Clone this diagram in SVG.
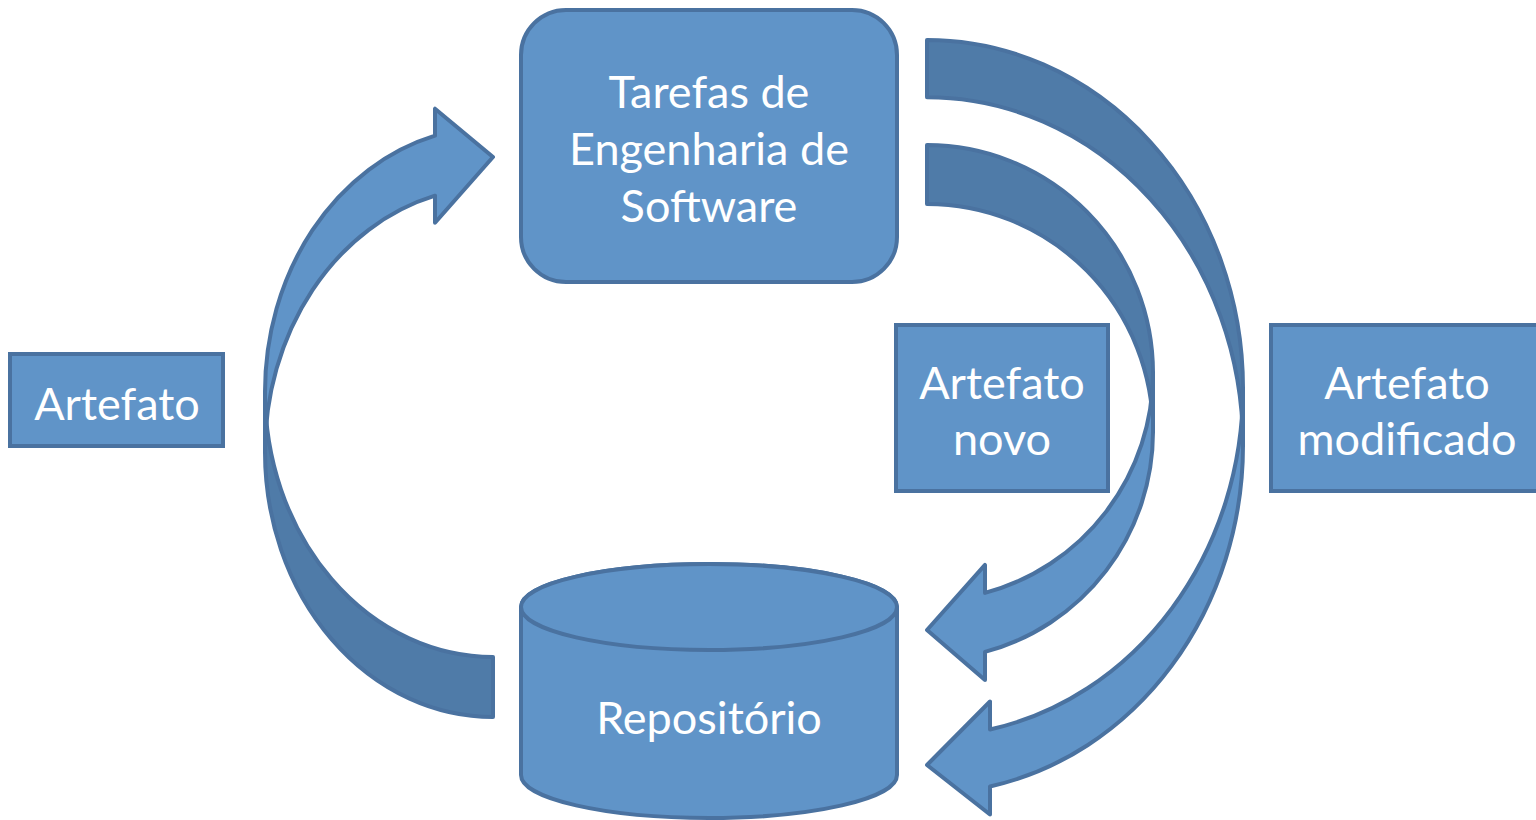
<svg xmlns="http://www.w3.org/2000/svg" width="1536" height="820" viewBox="0 0 1536 820">
<style>
.front{fill:#6094C8;stroke:#4A72A0;stroke-width:4;stroke-linejoin:round}
.back{fill:#4F7BA8;stroke:#4A72A0;stroke-width:4;stroke-linejoin:round}
.box{fill:#6094C8;stroke:#4A72A0;stroke-width:4}
.t{font-family:Lato,"Liberation Sans",sans-serif;font-size:45px;fill:#FFFFFF;text-anchor:middle}
</style>
<rect width="1536" height="820" fill="#FFFFFF"/>
<g id="connectors">
  <g id="arrow-left">
    <path class="back" d="M 493 717 A 228 265 0 0 1 265 452 L 265 392 A 228 265 0 0 0 493 657 Z"/>
    <path class="front" d="M 265 452 A 228 265 0 0 1 435 195.7 L 435 222.7 L 493 157 L 435 108.7 L 435 135.7 A 228 265 0 0 0 265 392 Z"/>
  </g>
  <g id="arrow-novo">
    <path class="back" d="M 927 145 A 226 227.75 0 0 1 1153 372.75 L 1153 431.75 A 226 227.75 0 0 0 927 204 Z"/>
    <path class="front" d="M 1153 431.75 A 226 227.75 0 0 1 985 651.9 L 985 679.9 L 927 630 L 985 564.9 L 985 592.9 A 226 227.75 0 0 0 1153 372.75 Z"/>
  </g>
  <g id="arrow-modificado">
    <path class="back" d="M 927 40 A 316 348.25 0 0 1 1243 388.25 L 1243 445.25 A 316 348.25 0 0 0 927 97.25 Z"/>
    <path class="front" d="M 1243 445.25 A 316 348.25 0 0 1 990 786.5 L 990 814.5 L 927 765 L 990 701.5 L 990 729.5 A 316 348.25 0 0 0 1243 388.25 Z"/>
  </g>
</g>
<g id="tarefas">
  <rect class="box" x="521" y="10" width="376" height="272" rx="45" ry="45"/>
  <text class="t" x="709" y="108">Tarefas de</text>
  <text class="t" x="709" y="165">Engenharia de</text>
  <text class="t" x="709" y="222">Software</text>
</g>
<g id="artefato">
  <rect class="box" x="10" y="354" width="213" height="92"/>
  <text class="t" x="117" y="420">Artefato</text>
</g>
<g id="artefato-novo">
  <rect class="box" x="896" y="325" width="212" height="166"/>
  <text class="t" x="1002" y="399">Artefato</text>
  <text class="t" x="1002" y="455">novo</text>
</g>
<g id="artefato-modificado">
  <rect class="box" x="1271" y="325" width="272" height="166"/>
  <text class="t" x="1407" y="399">Artefato</text>
  <text class="t" x="1407" y="455">modificado</text>
</g>
<g id="repositorio">
  <path class="box" d="M 521 607 L 521 775 A 188 43 0 0 0 897 775 L 897 607 A 188 43 0 0 0 521 607 Z"/>
  <ellipse class="box" cx="709" cy="607" rx="188" ry="43"/>
  <text class="t" x="709" y="734">Repositório</text>
</g>
</svg>
